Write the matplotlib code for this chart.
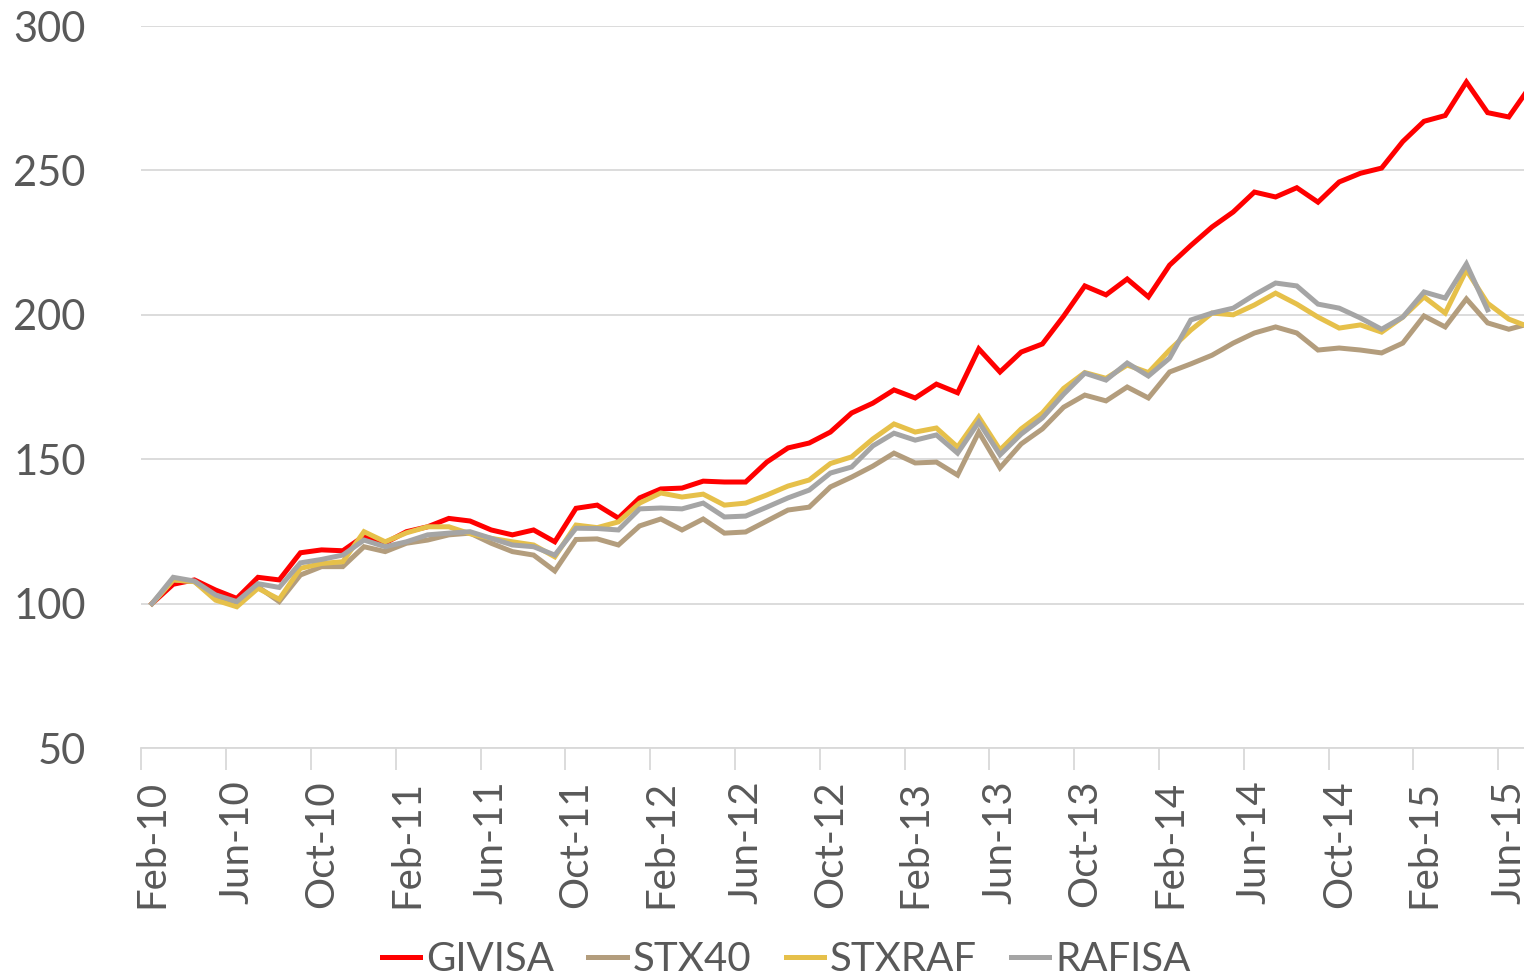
import numpy as np
import matplotlib
matplotlib.use('Agg')
import matplotlib.pyplot as plt

plt.rcParams['font.family'] = ['Lato', 'DejaVu Sans']

# monthly index values, Feb-10 onwards
givisa = [100, 106.7, 108.2, 104.7, 101.8, 109.1, 108.2, 117.6, 118.6, 118.3,
          123.4, 121.0, 124.9, 126.6, 129.5, 128.6, 125.5, 123.8, 125.5, 121.4,
          133.0, 134.1, 129.6, 136.6, 139.7, 140.0, 142.4, 142.1, 142.1, 149.0,
          153.9, 155.6, 159.4, 166.0, 169.4, 174.0, 171.2, 176.0, 173.0, 188.2,
          180.2, 187.1, 189.9, 199.5, 210.0, 206.9, 212.4, 206.2, 217.2, 224.0,
          230.4, 235.6, 242.5, 240.8, 244.0, 239.0, 246.0, 249.0, 250.8, 260.0,
          267.0, 269.0, 280.6, 270.0, 268.5, 279.0]

stx40 = [100, 108.2, 107.6, 102.3, 100.1, 105.8, 100.7, 109.9, 112.8, 112.8,
         119.7, 118.0, 120.9, 122.0, 123.8, 124.4, 120.9, 118.0, 116.8, 111.3,
         122.2, 122.4, 120.3, 126.9, 129.3, 125.5, 129.3, 124.4, 124.8, 128.6,
         132.4, 133.4, 140.4, 143.8, 147.6, 152.1, 148.7, 149.0, 144.5, 159.4,
         147.0, 155.3, 160.5, 168.0, 172.2, 170.2, 175.0, 171.2, 180.2, 183.0,
         186.0, 190.2, 193.7, 195.8, 193.7, 187.8, 188.5, 187.8, 186.8, 190.2,
         199.6, 195.8, 205.5, 197.2, 195.0, 197.0]

stxraf = [100, 108.2, 107.6, 101.2, 98.9, 105.3, 101.5, 112.2, 113.9, 114.5,
          124.9, 121.4, 124.5, 126.6, 126.6, 124.2, 122.6, 121.4, 120.3, 116.2,
          127.2, 126.3, 128.3, 134.8, 138.3, 136.9, 137.9, 134.1, 134.8, 137.6,
          140.7, 142.8, 148.5, 150.8, 157.0, 162.2, 159.4, 160.8, 154.2, 164.6,
          153.2, 160.5, 166.0, 174.5, 180.0, 178.0, 182.6, 180.0, 187.8, 194.7,
          200.6, 200.0, 203.4, 207.5, 203.7, 199.2, 195.4, 196.5, 194.0, 199.2,
          206.2, 200.6, 215.5, 204.0, 198.5, 195.7]

rafisa = [100, 109.1, 107.8, 103.0, 100.7, 106.9, 105.6, 114.1, 115.3, 116.8,
          122.0, 119.7, 121.4, 123.8, 124.4, 124.9, 122.6, 120.3, 119.7, 116.8,
          126.1, 126.0, 125.5, 132.8, 133.1, 132.8, 134.8, 130.0, 130.3, 133.4,
          136.6, 139.3, 145.2, 147.3, 154.6, 159.0, 156.6, 158.4, 152.1, 162.9,
          151.5, 158.7, 164.3, 172.5, 179.8, 177.4, 183.3, 178.8, 185.0, 198.2,
          200.6, 202.3, 206.9, 211.0, 210.0, 203.7, 202.3, 198.9, 195.0, 199.2,
          207.9, 205.8, 217.6, 201.7, np.nan, np.nan]

tick_labels = ['Feb-10', 'Jun-10', 'Oct-10', 'Feb-11', 'Jun-11', 'Oct-11',
               'Feb-12', 'Jun-12', 'Oct-12', 'Feb-13', 'Jun-13', 'Oct-13',
               'Feb-14', 'Jun-14', 'Oct-14', 'Feb-15', 'Jun-15']

series_names = ['GIVISA', 'STX40', 'STXRAF', 'RAFISA']
series_colors = ['#FF0000', '#B39D7D', '#E6C04A', '#A5A5A5']


def plot_chart():
    """Line chart of the four indices"""
    fig = plt.figure(figsize=(15.24, 9.77), dpi=100)
    ax = fig.add_axes([141.4 / 1524, 229 / 977, 1 - 141.4 / 1524, 722 / 977])

    x = np.arange(len(givisa))
    for vals, name, col in zip([givisa, stx40, stxraf, rafisa], series_names, series_colors):
        ax.plot(x, vals, color=col, linewidth=3.6, label=name, solid_joinstyle='miter')

    ax.set_xlim(-0.5, (1524 - 152) / 21.2)
    ax.set_ylim(50, 300)
    ax.set_yticks(range(50, 301, 50))
    ax.grid(axis='y', color='#D9D9D9', linewidth=1.3)
    ax.set_axisbelow(True)

    ax.set_xticks(x[::4])
    ax.set_xticklabels(tick_labels, rotation=90, fontsize=29, color='#595959')
    ax.set_xticks(np.arange(-0.5, len(givisa), 4), minor=True)
    ax.tick_params(axis='x', which='major', length=0, pad=23)
    ax.tick_params(axis='x', which='minor', length=16, width=1.3, color='#D9D9D9')
    ax.tick_params(axis='y', length=0, pad=40, labelsize=30, labelcolor='#595959')

    for s in ['top', 'right', 'left']:
        ax.spines[s].set_visible(False)
    ax.spines['bottom'].set_color('#D9D9D9')
    ax.spines['bottom'].set_linewidth(1.3)

    fig.legend(loc='center', bbox_to_anchor=(0.516, 0.018), ncol=4, frameon=False,
               fontsize=29, labelcolor='#595959', handlelength=0.95,
               handletextpad=0.15, columnspacing=0.85)

    fig.savefig('out.png', dpi=100)
    plt.close()


if __name__ == "__main__":
    plot_chart()
